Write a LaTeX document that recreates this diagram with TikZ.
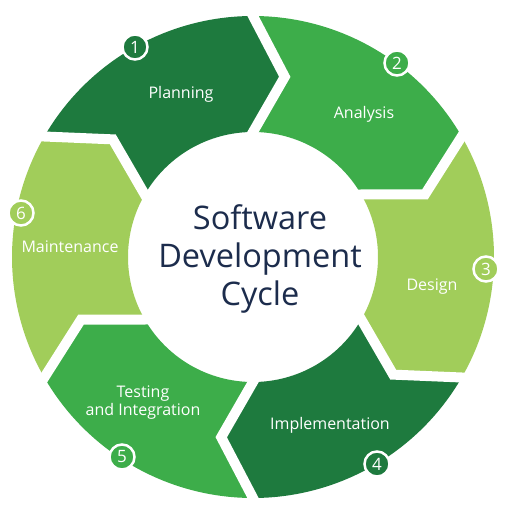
\documentclass[tikz,border=0pt]{standalone}
\usepackage{fontspec}
\setmainfont{Open Sans}
\usetikzlibrary{calc}
\definecolor{darkgreen}{RGB}{30,122,62}
\definecolor{midgreen}{RGB}{61,173,74}
\definecolor{lightgreen}{RGB}{161,205,90}
\definecolor{titlecolor}{RGB}{28,44,76}

\begin{document}
\begin{tikzpicture}[
    x=1pt, y=1pt,
    stage/.style={text=white, font=\fontsize{16}{18}\selectfont, align=center, anchor=base},
    badge/.style={circle, draw=white, line width=2.5pt, minimum size=25pt, inner sep=0pt, text=white, font=\fontsize{17}{17}\selectfont},
    gap/.style={white, line width=10pt},
    title/.style={text=titlecolor, font=\fontsize{32.5}{38}\selectfont, align=center}
]
    \useasboundingbox (-253,-257) rectangle (255,257);

    % Ring segments (start angle / colour)
    \foreach \a/\col in {150/darkgreen, 90/midgreen, 30/lightgreen, -30/darkgreen, -90/midgreen, -150/lightgreen} {
        \fill[\col] (\a:241) -- ({\a-10}:183) -- (\a:125)
            arc[start angle=\a, end angle=\a-60, radius=125]
            -- ({\a-70}:183) -- ({\a-60}:241)
            arc[start angle=\a-60, end angle=\a, radius=241] -- cycle;
    }

    % White gaps between segments
    \foreach \a in {150, 90, 30, -30, -90, -150} {
        \coordinate (tip) at ({\a-10}:183);
        \draw[gap] ($(tip)!1.3!(\a:241)$) -- (tip) -- ($(tip)!1.3!(\a:125)$);
    }

    % Title
    \node[title] (cycle) at (7,-2) {Software\\Development\\Cycle};

    % Stage labels
    \node[stage] (planning) at (-72,158) {Planning};
    \node[stage] (analysis) at (111,138) {Analysis};
    \node[stage] (design) at (179,-33) {Design};
    \node[stage] (implementation) at (77,-172) {Implementation};
    \node[stage] (testing) at (-110,-158) {Testing\\and Integration};
    \node[stage] (maintenance) at (-183,5) {Maintenance};

    % Numbers
    \node[badge, fill=darkgreen] (n1) at (-118,210) {1};
    \node[badge, fill=midgreen] (n2) at (144,194) {2};
    \node[badge, fill=lightgreen] (n3) at (233,-12) {3};
    \node[badge, fill=darkgreen] (n4) at (124,-207) {4};
    \node[badge, fill=midgreen] (n5) at (-131,-200) {5};
    \node[badge, fill=lightgreen] (n6) at (-232,44) {6};
\end{tikzpicture}
\end{document}
